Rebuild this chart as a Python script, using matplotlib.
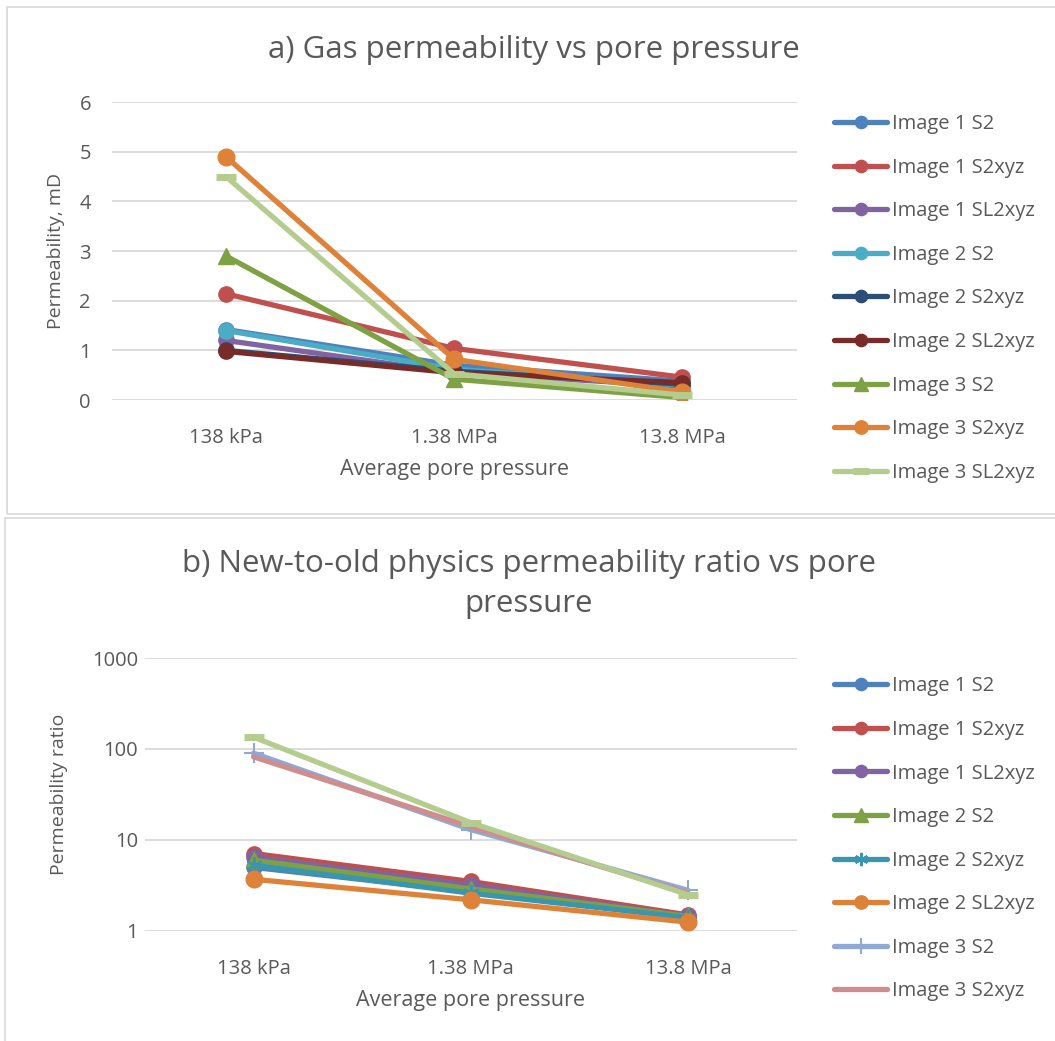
import numpy as np
import matplotlib
matplotlib.use("Agg")
import matplotlib.pyplot as plt
from matplotlib.patches import Rectangle

plt.rcParams['font.family'] = ['Open Sans', 'DejaVu Sans']

categories = ['138 kPa', '1.38 MPa', '13.8 MPa']

# a) gas permeability, mD
a_names = ['Image 1 S2', 'Image 1 S2xyz', 'Image 1 SL2xyz', 'Image 2 S2', 'Image 2 S2xyz',
           'Image 2 SL2xyz', 'Image 3 S2', 'Image 3 S2xyz', 'Image 3 SL2xyz']
a_img1_s2 = [1.42, 0.70, 0.38]
a_img1_s2xyz = [2.14, 1.04, 0.46]
a_img1_sl2xyz = [1.20, 0.55, 0.28]
a_img2_s2 = [1.40, 0.62, 0.30]
a_img2_s2xyz = [1.00, 0.58, 0.32]
a_img2_sl2xyz = [0.98, 0.55, 0.35]
a_img3_s2 = [2.90, 0.42, 0.05]
a_img3_s2xyz = [4.90, 0.82, 0.16]
a_img3_sl2xyz = [4.50, 0.53, 0.10]

# b) new-to-old physics permeability ratio
b_names = ['Image 1 S2', 'Image 1 S2xyz', 'Image 1 SL2xyz', 'Image 2 S2', 'Image 2 S2xyz',
           'Image 2 SL2xyz', 'Image 3 S2', 'Image 3 S2xyz', 'Image 3 SL2xyz']
b_img1_s2 = [5.0, 2.7, 1.40]
b_img1_s2xyz = [7.1, 3.5, 1.50]
b_img1_sl2xyz = [6.5, 3.2, 1.45]
b_img2_s2 = [6.0, 2.9, 1.45]
b_img2_s2xyz = [5.3, 2.6, 1.40]
b_img2_sl2xyz = [3.7, 2.2, 1.25]
b_img3_s2 = [90, 13, 2.8]
b_img3_s2xyz = [82, 14, 2.6]
b_img3_sl2xyz = [135, 15.5, 2.5]

txt = '#595959'
grid = '#D9D9D9'

a_data = [a_img1_s2, a_img1_s2xyz, a_img1_sl2xyz, a_img2_s2, a_img2_s2xyz,
          a_img2_sl2xyz, a_img3_s2, a_img3_s2xyz, a_img3_sl2xyz]
a_style = [('#4F81BD', 'o', 11, 1), ('#C0504D', 'o', 11, 1), ('#8064A2', 'o', 11, 1),
           ('#4BACC6', 'o', 11, 1), ('#2C4D75', 'o', 11, 1), ('#772C2A', 'o', 11, 1),
           ('#7EA145', '^', 12, 1), ('#DD8238', 'o', 12, 1), ('#B4CC8E', '_', 14, 5)]

b_data = [b_img1_s2, b_img1_s2xyz, b_img1_sl2xyz, b_img2_s2, b_img2_s2xyz,
          b_img2_sl2xyz, b_img3_s2, b_img3_s2xyz, b_img3_sl2xyz]
b_style = [('#4F81BD', 'o', 11, 1), ('#C0504D', 'o', 11, 1), ('#8064A2', 'o', 11, 1),
           ('#7EA145', '^', 12, 1), ('#3A96AC', (6, 2, 0), 12, 1.5), ('#DD8238', 'o', 12, 1),
           ('#8EA9D6', '+', 14, 1.5), ('#D08D8D', None, 0, 1), ('#B4CC8E', '_', 14, 5)]

fig = plt.figure(figsize=(10.55, 10.41), dpi=100)

# chart frames
fig.add_artist(Rectangle((0.0066, 0.506), 1.1, 0.487, transform=fig.transFigure,
                         fill=False, ec=grid, lw=1.2))
fig.add_artist(Rectangle((0.0045, -0.2), 1.1, 0.7024, transform=fig.transFigure,
                         fill=False, ec=grid, lw=1.2))

x = np.arange(len(categories))


def style_axes(ax, ypad):
    for s in ax.spines.values():
        s.set_visible(False)
    ax.tick_params(length=0, colors=txt, labelsize=14.5)
    ax.grid(axis='y', color=grid, lw=1.3)
    ax.set_axisbelow(True)
    ax.set_xlim(-0.5, 2.5)
    ax.set_xticks(x)
    ax.set_xticklabels(categories)
    ax.tick_params(axis='x', pad=20)
    ax.tick_params(axis='y', pad=ypad)


def add_legend(handles, labels, ytop):
    fig.legend(handles, labels, loc='upper left', bbox_to_anchor=(0.783, ytop),
               frameon=False, fontsize=14.5, labelcolor=txt, handlelength=2.65,
               handletextpad=0.2, labelspacing=1.17, borderaxespad=0, markerscale=0.8)


# top chart
ax1 = fig.add_axes([0.106, 0.6157, 0.649, 0.2863])
style_axes(ax1, 15)
for name, vals, (c, m, ms, mew) in zip(a_names, a_data, a_style):
    ax1.plot(x, vals, color=c, lw=3.8, marker=m, markersize=ms, mew=mew,
             mec=c, mfc=c, label=name, solid_capstyle='round')
ax1.set_ylim(0, 6)
ax1.set_yticks(range(0, 7))
ax1.set_ylabel('Permeability, mD', color=txt, fontsize=14, labelpad=10.5)
ax1.set_xlabel('Average pore pressure', color=txt, fontsize=15.5, labelpad=8)
fig.text(0.506, 0.952, 'a) Gas permeability vs pore pressure', ha='center', va='center',
         color=txt, fontsize=22.5)
h, l = ax1.get_legend_handles_labels()
add_legend(h, l, 0.898)

# bottom chart
ax2 = fig.add_axes([0.1374, 0.1057, 0.6176, 0.2622])
style_axes(ax2, 5)
for name, vals, (c, m, ms, mew) in zip(b_names, b_data, b_style):
    ax2.plot(x, vals, color=c, lw=3.8, marker=m, markersize=ms, mew=mew,
             mec=c, mfc=c, label=name, solid_capstyle='round')
ax2.set_yscale('log')
ax2.set_ylim(1, 1000)
ax2.set_yticks([1, 10, 100, 1000])
ax2.set_yticklabels(['1', '10', '100', '1000'])
ax2.yaxis.set_minor_locator(matplotlib.ticker.NullLocator())
ax2.set_ylabel('Permeability ratio', color=txt, fontsize=14, labelpad=17)
ax2.set_xlabel('Average pore pressure', color=txt, fontsize=15.5, labelpad=8)
fig.text(0.501, 0.439, 'b) New-to-old physics permeability ratio vs pore\npressure', ha='center',
         va='center', color=txt, fontsize=22.5, linespacing=1.45)
h, l = ax2.get_legend_handles_labels()
# the legend is truncated in the original chart: last series is not listed
add_legend(h[:8], l[:8], 0.358)

fig.savefig('out.png', dpi=100)
